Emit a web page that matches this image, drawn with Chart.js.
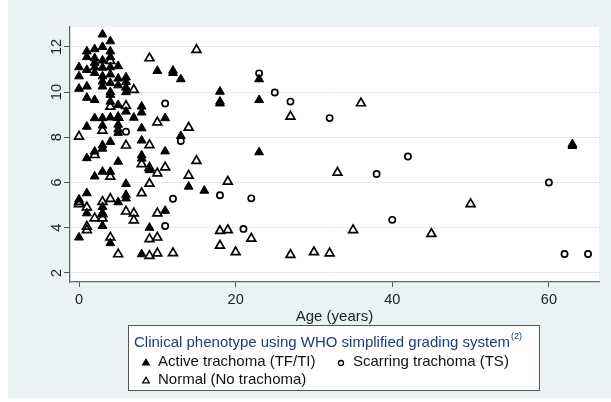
<!DOCTYPE html>
<html>
<head>
<meta charset="utf-8">
<title>Trachoma phenotype by age</title>
<script src="https://cdn.jsdelivr.net/npm/chart.js@4.4.0/dist/chart.umd.min.js"></script>
<style>
  html, body { margin: 0; padding: 0; background: #fff; }
  #wrap { width: 611px; height: 402px; }
</style>
</head>
<body>
<div id="wrap"><canvas id="trachomaChart" width="611" height="402"></canvas></div>
<script>
// values: age (years) and the y value of each marker
const activeAge = [0,0,0,0,0, 1,1,1,1,1,1,1,1,1, 2,2,2,2,2,2,2,2,2,
  3,3,3,3,3,3,3,3,3,3,3,3,3,3,3, 4,4,4,4,4,4,4,4,4,4,4,4,4,
  5,5,5,5,5,5,5,5,5,5, 6,6,6,6,6,6,6,6, 7, 8,8,8,8,8,8,8, 9,9, 10,
  11,11,11, 12,12, 13,13, 14, 16, 18,18,18, 23,23,23, 63,63];
const activeVal = [11.1,10.7,10.15,5.25,3.57,
  11.8,11.55,10.98,10.25,9.75,8.47,7.08,5.53,4.64,
  11.9,11.5,11.3,11.1,10.85,9.65,8.85,7.37,6.27,
  12.55,12.0,11.4,11.08,10.7,10.47,10.25,8.85,8.52,7.65,7.5,6.48,4.92,4.65,4.08,
  12.25,11.8,11.55,11.1,10.78,10.4,10.0,9.88,9.58,8.88,7.8,6.48,3.32,
  11.15,10.6,10.3,9.43,8.9,8.56,8.35,8.2,6.92,5.13,
  10.65,10.45,10.2,10.0,9.14,5.94,5.45,5.3,
  8.87,
  9.36,9.1,8.4,7.86,7.2,7.06,2.83,
  6.55,4.0,
  10.94,
  8.85,7.38,4.75,
  10.95,10.85,
  10.57,8.06,
  5.82,
  5.64,
  10.02,9.58,9.5,
  10.57,9.65,7.34,
  7.7,7.62];

const scarAge = [6, 11, 11, 12, 13, 18, 21, 22, 23, 25, 27, 32, 38, 40, 42, 60, 62, 65];
const scarVal = [8.25, 9.5, 4.08, 5.28, 7.84, 5.44, 3.95, 5.3, 10.83, 9.98, 9.58, 8.85, 6.38, 4.35, 7.15, 6.0, 2.84, 2.84];

const normalAge = [0,0,0, 1,1,1, 2,2, 3,3,3,3, 4,4,4,4,4, 5,5, 6,6,6, 7,7,7, 8,8,
  9,9,9,9,9,9, 10,10,10,10,10, 11, 12, 14,14, 15,15, 18,18, 19,19, 20, 22,
  27,27, 30, 32, 33, 35, 36, 45, 50];
const normalVal = [8.03,5.15,5.05, 4.9,4.05,3.9, 7.22,4.42, 8.3,5.15,4.6,4.42,
  11.38,9.36,6.26,5.28,3.57, 8.87,2.83, 9.39,7.64,4.72, 10.1,4.64,4.33, 6.82,5.53,
  11.5,7.66,6.65,5.95,3.5,2.76, 8.66,6.41,4.64,3.57,2.87, 6.67, 2.88, 8.43,6.31,
  11.87,6.96, 3.86,3.21, 6.04,3.9, 2.92, 3.52, 8.92,2.8, 2.92, 2.87, 6.44, 3.9, 9.51, 3.73, 5.05];

const xTicks = [0, 20, 40, 60];
const yTicks = [2, 4, 6, 8, 10, 12];
const seriesNames = ['Active trachoma (TF/TI)', 'Scarring trachoma (TS)', 'Normal (No trachoma)'];
const legendTitle = 'Clinical phenotype using WHO simplified grading system';
const xTitle = 'Age (years)';

const FONT = '"Liberation Sans", Arial, Helvetica, sans-serif';
const BG = '#eaf2f3';

function pairs(xs, ys) {
  return xs.map((x, i) => ({ x: x, y: ys[i] }));
}

// stata style frame: grey graph region, white plot region, rotated y labels, legend box
const stataFrame = {
  id: 'stataFrame',
  beforeDraw(chart) {
    const ctx = chart.ctx, a = chart.chartArea;
    ctx.save();
    ctx.fillStyle = '#fff';
    ctx.fillRect(0, 0, chart.width, chart.height);
    ctx.fillStyle = BG;
    ctx.fillRect(8, 0, chart.width - 8, chart.height - 4);
    ctx.fillStyle = '#fff';
    ctx.fillRect(a.left, a.top, a.right - a.left, a.bottom - a.top);
    ctx.restore();
  },
  afterDraw(chart) {
    const ctx = chart.ctx, a = chart.chartArea, ys = chart.scales.y;
    ctx.save();
    ctx.fillStyle = '#222';
    ctx.font = '14.5px ' + FONT;
    ctx.textAlign = 'center';
    ctx.textBaseline = 'middle';
    ys.ticks.forEach(t => {
      const py = ys.getPixelForValue(t.value);
      ctx.save();
      ctx.translate(57, py);
      ctx.rotate(-Math.PI / 2);
      ctx.fillText(String(t.value), 0, 0);
      ctx.restore();
    });

    ctx.font = '15px ' + FONT;
    ctx.fillText(xTitle, (a.left + a.right) / 2, 317);

    // legend box
    ctx.fillStyle = '#fff';
    ctx.fillRect(128, 325, 412, 66);
    ctx.strokeStyle = '#555';
    ctx.lineWidth = 1;
    ctx.strokeRect(128.5, 325.5, 411, 65);

    ctx.textAlign = 'left';
    ctx.fillStyle = '#1f3c78';
    ctx.font = '15px ' + FONT;
    ctx.fillText(legendTitle, 134, 343);
    const tw = ctx.measureText(legendTitle).width;
    ctx.font = '9px ' + FONT;
    ctx.fillText('(2)', 134 + tw + 1, 337);

    const keys = [
      { x: 146, y: 362, style: 'triangle', r: 3.8, fill: '#000' },
      { x: 341, y: 362, style: 'circle', r: 2.5, fill: 'rgba(0,0,0,0)' },
      { x: 146, y: 380, style: 'triangle', r: 3.8, fill: 'rgba(0,0,0,0)' }
    ];
    keys.forEach((k, i) => {
      ctx.fillStyle = k.fill;
      ctx.strokeStyle = '#000';
      ctx.lineWidth = 1.3;
      Chart.helpers.drawPoint(ctx, { pointStyle: k.style, radius: k.r, borderWidth: 1.3, rotation: 0 }, k.x, k.y + 1);
      ctx.fillStyle = '#111';
      ctx.font = '15px ' + FONT;
      ctx.textBaseline = 'middle';
      ctx.fillText(seriesNames[i], k.x + 12, k.y);
    });
    ctx.restore();
  }
};

const ctx = document.getElementById('trachomaChart').getContext('2d');
const trachomaChart = new Chart(ctx, {
  type: 'scatter',
  data: {
    datasets: [
      {
        label: seriesNames[0],
        data: pairs(activeAge, activeVal),
        pointStyle: 'triangle',
        pointRadius: 5.1,
        backgroundColor: '#000',
        borderColor: '#000',
        borderWidth: 1
      },
      {
        label: seriesNames[1],
        data: pairs(scarAge, scarVal),
        pointStyle: 'circle',
        pointRadius: 3.1,
        backgroundColor: 'rgba(0,0,0,0)',
        borderColor: '#000',
        borderWidth: 1.7
      },
      {
        label: seriesNames[2],
        data: pairs(normalAge, normalVal),
        pointStyle: 'triangle',
        pointRadius: 5.1,
        backgroundColor: 'rgba(0,0,0,0)',
        borderColor: '#000',
        borderWidth: 1.7
      }
    ]
  },
  options: {
    responsive: false,
    animation: false,
    events: [],
    layout: { padding: { left: 0, right: 12, top: 27, bottom: 0 } },
    plugins: {
      legend: { display: false },
      tooltip: { enabled: false }
    },
    scales: {
      x: {
        type: 'linear',
        min: -1.15,
        max: 66.4,
        afterBuildTicks(s) { s.ticks = xTicks.map(v => ({ value: v })); },
        afterFit(s) { s.height = 120; },
        grid: { drawOnChartArea: false, drawTicks: true, tickLength: 5, tickColor: '#555', tickWidth: 1 },
        border: { display: true, color: '#666', width: 1.3 },
        ticks: { color: '#222', padding: 4, font: { family: FONT, size: 14.5 } }
      },
      y: {
        type: 'linear',
        min: 1.6,
        max: 12.88,
        afterBuildTicks(s) { s.ticks = yTicks.map(v => ({ value: v })); },
        afterFit(s) { s.width = 70; },
        grid: { color: '#e3ebee', lineWidth: 1, drawTicks: true, tickLength: 6, tickColor: '#555', tickWidth: 1 },
        border: { display: true, color: '#666', width: 1.3 },
        ticks: { display: false }
      }
    }
  },
  plugins: [stataFrame]
});
</script>
</body>
</html>
